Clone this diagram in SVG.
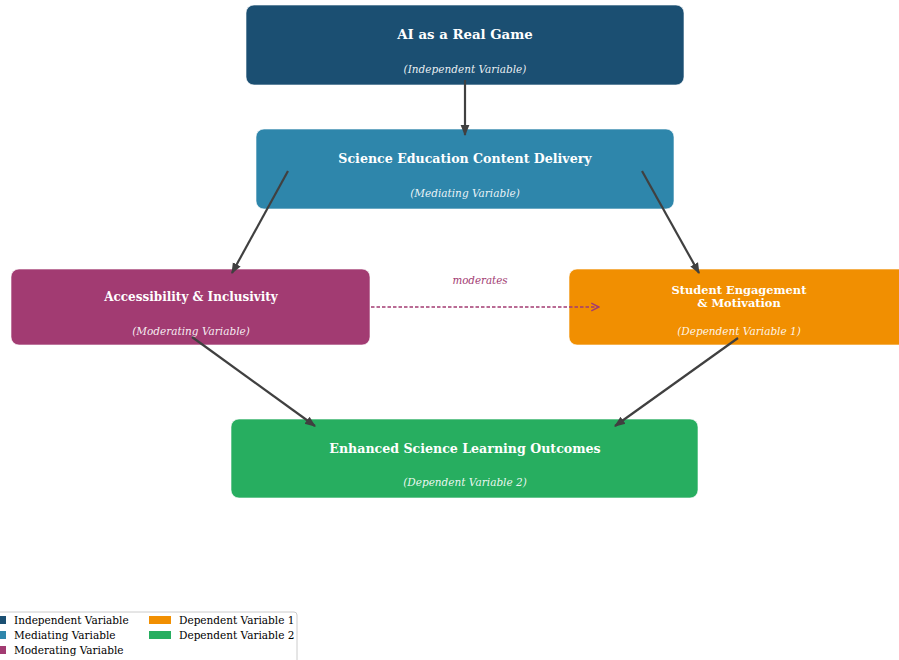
<svg xmlns="http://www.w3.org/2000/svg" width="899" height="660" viewBox="0 0 899 660">
<style>
.box{stroke:#ffffff;stroke-opacity:0.6;stroke-width:1}
.t{font-family:"DejaVu Serif",serif;font-weight:bold;font-size:12.6px;fill:#ffffff;text-anchor:middle}
.s{font-family:"DejaVu Serif",serif;font-style:italic;font-size:10.5px;fill:#ffffff;fill-opacity:0.92;text-anchor:middle}
.c{stroke:#404040;stroke-width:2.2;fill:none}
.lg{font-family:"DejaVu Serif",serif;font-size:10.5px;fill:#000000}
</style>
<defs>
<marker id="ah" viewBox="0 0 10 10" refX="9" refY="5" markerWidth="5" markerHeight="5" orient="auto" markerUnits="strokeWidth">
<path d="M0,1 L10,5 L0,9 Z" fill="#404040"/>
</marker>
<marker id="oh" viewBox="0 0 10 10" refX="9" refY="5" markerWidth="6" markerHeight="6" orient="auto" markerUnits="strokeWidth">
<path d="M1,1 L9,5 L1,9" fill="none" stroke="#a23b72" stroke-width="1.5"/>
</marker>
</defs>
<rect width="899" height="660" fill="#ffffff"/>
<g id="n-ai">
<rect class="box" x="246" y="5" width="438" height="80" rx="8" fill="#1b4f72"/>
<text class="t" x="465" y="39" style="font-size:13.3px">AI as a Real Game</text>
<text class="s" x="465" y="73">(Independent Variable)</text>
</g>
<g id="n-science">
<rect class="box" x="256" y="129" width="418" height="80" rx="8" fill="#2e86ab"/>
<text class="t" x="465" y="163">Science Education Content Delivery</text>
<text class="s" x="465" y="197">(Mediating Variable)</text>
</g>
<g id="n-access">
<rect class="box" x="11" y="269" width="359" height="76" rx="8" fill="#a23b72"/>
<text class="t" x="191" y="301" style="font-size:12px">Accessibility &amp; Inclusivity</text>
<text class="s" x="191" y="335">(Moderating Variable)</text>
</g>
<g id="n-engage">
<rect class="box" x="569" y="269" width="345" height="76" rx="8" fill="#f18f01"/>
<text class="t" x="739" y="294" style="font-size:11.4px">Student Engagement</text>
<text class="t" x="739" y="307" style="font-size:11.4px">&amp; Motivation</text>
<text class="s" x="739" y="335">(Dependent Variable 1)</text>
</g>
<g id="n-outcomes">
<rect class="box" x="231" y="419" width="467" height="79" rx="8" fill="#27ae60"/>
<text class="t" x="465" y="452.5">Enhanced Science Learning Outcomes</text>
<text class="s" x="465" y="486">(Dependent Variable 2)</text>
</g>
<g id="connectors">
<line class="c" x1="465" y1="80" x2="465" y2="135" marker-end="url(#ah)"/>
<line class="c" x1="288" y1="171" x2="232" y2="273" marker-end="url(#ah)"/>
<line class="c" x1="642" y1="171" x2="699" y2="273" marker-end="url(#ah)"/>
<line class="c" x1="192" y1="337" x2="315" y2="426" marker-end="url(#ah)"/>
<line class="c" x1="738" y1="338" x2="615" y2="426" marker-end="url(#ah)"/>
<line x1="371" y1="307" x2="599" y2="307" stroke="#a23b72" stroke-width="1.6" stroke-dasharray="3.5,2" marker-end="url(#oh)"/>
<text x="480" y="284" font-family="DejaVu Serif, serif" font-style="italic" font-size="10.3px" fill="#a23b72" text-anchor="middle">moderates</text>
</g>
<g id="legend">
<rect x="-6" y="612" width="303" height="56" rx="3" fill="#ffffff" stroke="#cccccc" stroke-width="1"/>
<rect x="-16" y="616" width="22" height="8" fill="#1b4f72"/>
<rect x="-16" y="631" width="22" height="8" fill="#2e86ab"/>
<rect x="-16" y="646" width="22" height="8" fill="#a23b72"/>
<rect x="149" y="616" width="22" height="8" fill="#f18f01"/>
<rect x="149" y="631" width="22" height="8" fill="#27ae60"/>
<text class="lg" x="14" y="624">Independent Variable</text>
<text class="lg" x="14" y="639">Mediating Variable</text>
<text class="lg" x="14" y="654">Moderating Variable</text>
<text class="lg" x="179" y="624">Dependent Variable 1</text>
<text class="lg" x="179" y="639">Dependent Variable 2</text>
</g>
</svg>
